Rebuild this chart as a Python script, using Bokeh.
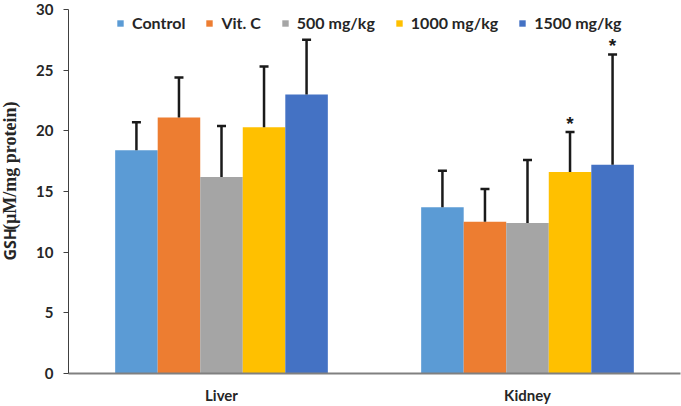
import math
from bokeh.plotting import figure
from bokeh.layouts import row
from bokeh.models import (ColumnDataSource, FactorRange, Range1d, Legend, LegendItem,
                          SingleIntervalTicker)
from bokeh.transform import dodge
from bokeh.core.properties import value
from bokeh.embed import file_html
from bokeh.resources import INLINE

# ---- data ----
categories = ["Liver", "Kidney"]
series_names = ["Control", "Vit. C", "500 mg/kg", "1000 mg/kg", "1500 mg/kg"]
control_mean = [18.4, 13.7]
control_sd = [2.3, 3.0]
vitc_mean = [21.1, 12.5]
vitc_sd = [3.3, 2.7]
d500_mean = [16.2, 12.4]
d500_sd = [4.2, 5.2]
d1000_mean = [20.3, 16.6]
d1000_sd = [5.0, 3.3]
d1500_mean = [23.0, 17.2]
d1500_sd = [4.5, 9.1]
control_sig = ["", ""]
vitc_sig = ["", ""]
d500_sig = ["", ""]
d1000_sig = ["", "*"]
d1500_sig = ["", "*"]
y_ticks_interval = 5
y_title_parts = ["GSH", "(\u00b5M/mg protein)"]

means = [control_mean, vitc_mean, d500_mean, d1000_mean, d1500_mean]
sds = [control_sd, vitc_sd, d500_sd, d1000_sd, d1500_sd]
sigs = [control_sig, vitc_sig, d500_sig, d1000_sig, d1500_sig]
colors = ["#5B9BD5", "#ED7D31", "#A5A5A5", "#FFC000", "#4472C4"]

TXT = "#262626"
FONT = "Lato"
W_TITLE = 24
H = 406

# ---- narrow figure holding the y-axis title (mixed fonts as in the original) ----
t = figure(width=W_TITLE, height=H, x_range=Range1d(0, W_TITLE), y_range=Range1d(0, H),
           output_backend="svg", toolbar_location=None, x_axis_location=None,
           y_axis_location=None, min_border=0)
t.outline_line_color = None
t.xgrid.grid_line_color = None
t.ygrid.grid_line_color = None
t.text(x=[9], y=[H - 280], text=[y_title_parts[0]], angle=math.pi / 2, text_align="left",
       text_baseline="middle", text_font=value("Open Sans"), text_font_style="bold",
       text_font_size="16px", text_color=TXT)
t.text(x=[9], y=[H - 246], text=[y_title_parts[1]], angle=math.pi / 2, text_align="left",
       text_baseline="middle", text_font=value("Liberation Serif"), text_font_style="bold",
       text_font_size="18px", text_color=TXT)

# ---- main chart ----
p = figure(x_range=FactorRange(*categories, range_padding=0), y_range=Range1d(0, 30),
           width=681 - W_TITLE, height=H, output_backend="svg", toolbar_location=None,
           min_border_left=68 - W_TITLE, min_border_right=1, min_border_top=9,
           min_border_bottom=32)
p.outline_line_color = None
p.xgrid.grid_line_color = None
p.ygrid.grid_line_color = None
p.background_fill_color = "white"

bw = 0.139
items = []
for i, name in enumerate(series_names):
    off = (i - 2) * bw
    top = [m + s for m, s in zip(means[i], sds[i])]
    src = ColumnDataSource(dict(x=categories, val=means[i], top=top, sig=sigs[i]))
    xd = dodge("x", off, range=p.x_range)
    r = p.vbar(x=xd, top="val", width=bw, source=src, fill_color=colors[i], line_color=None)
    items.append(LegendItem(label=name, renderers=[r]))
    p.segment(x0=xd, y0="val", x1=xd, y1="top", source=src, line_width=2.5, line_color="#1a1a1a")
    p.scatter(x=xd, y="top", source=src, marker="dash", size=9, line_width=2.5, line_color="#1a1a1a")
    p.text(x=xd, y="top", text="sig", source=src, text_align="center", text_baseline="middle",
           y_offset=-9, text_font=value("Liberation Sans"), text_font_style="bold",
           text_font_size="19px", text_color="#1a1a1a")

legend = Legend(items=items, orientation="horizontal", location=(48, 341), padding=0, margin=0,
                spacing=20, glyph_width=8, glyph_height=8, label_standoff=8,
                label_text_font=FONT, label_text_font_style="bold", label_text_font_size="16px",
                label_text_color=TXT, background_fill_alpha=0, border_line_color=None,
                label_height=14)
p.add_layout(legend)

# y axis
ya = p.yaxis[0]
ya.ticker = SingleIntervalTicker(interval=y_ticks_interval)
ya.axis_line_color = "#404040"
ya.major_tick_line_color = "#404040"
ya.major_tick_out = 5
ya.major_tick_in = 0
ya.minor_tick_line_color = None
ya.major_label_standoff = 10
ya.major_label_text_font = FONT
ya.major_label_text_font_style = "bold"
ya.major_label_text_font_size = "15px"
ya.major_label_text_color = TXT

# x axis
xa = p.xaxis[0]
xa.axis_line_color = "#808080"
xa.axis_line_width = 2
xa.major_tick_line_color = None
xa.major_tick_out = 0
xa.minor_tick_line_color = None
xa.major_label_standoff = 12
xa.major_label_text_font = FONT
xa.major_label_text_font_style = "bold"
xa.major_label_text_font_size = "15px"
xa.major_label_text_color = TXT

layout = row(t, p)
open("out.html", "w").write(file_html(layout, INLINE))
